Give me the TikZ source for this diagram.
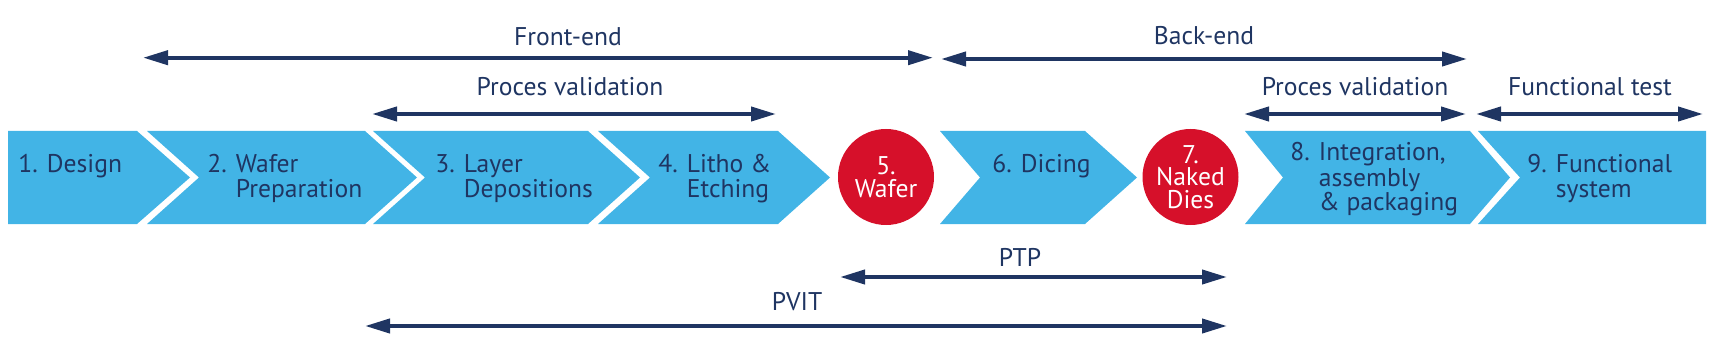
\documentclass[tikz,border=0pt]{standalone}
\usepackage{fontspec}
\setmainfont{PT Sans}
\usepackage{xcolor}
\usetikzlibrary{arrows.meta,calc}

\definecolor{stageblue}{HTML}{42B4E6}
\definecolor{milered}{HTML}{D6102A}
\definecolor{navy}{HTML}{1F3562}

\begin{document}
\begin{tikzpicture}[x=0.5pt, y=-0.5pt,
  stage/.style={fill=stageblue},
  steptext/.style={anchor=base west, inner sep=0, align=left, text=navy, font=\fontsize{12.8}{12.5}\selectfont},
  milestone/.style={circle, fill=milered, inner sep=0, minimum size=48pt, align=center, text=white, font=\fontsize{12.8}{11.2}\selectfont},
  span/.style={{Triangle[length=12.5pt,width=7pt]}-{Triangle[length=12.5pt,width=7pt]}, line width=2pt, draw=navy},
  spanlabel/.style={anchor=base, inner sep=0, text=navy, font=\fontsize{12.8}{14}\selectfont}
]
\useasboundingbox (0,0) rectangle (1720,353);

% process stages
\fill[stage] (8,131) -- (137,131) -- (190,177.5) -- (137,224) -- (8,224) -- cycle;
\foreach \xa/\xb/\nd/\td in {147/365/52/52, 373/588/52/52, 598/778/52/52, 940/1085/40/52, 1245/1470/38/40}
  \fill[stage] (\xa,131) -- (\xb,131) -- (\xb+\td,177.5) -- (\xb,224) -- (\xa,224) -- (\xa+\nd,177.5) -- cycle;
\fill[stage] (1478,131) -- (1706,131) -- (1706,224) -- (1478,224) -- (1520,177.5) -- cycle;

% base anchor of a multi-line node sits on its last line
\node[steptext] (design) at (18,173) {1. Design};
\node[steptext] (prep) at (207,198) {2. Wafer\\\hphantom{2. }Preparation};
\node[steptext] (layer) at (435,198) {3. Layer\\\hphantom{3. }Depositions};
\node[steptext] (litho) at (658,198) {4. Litho \&\\\hphantom{4. }Etching};
\node[milestone] (wafer) at (886,177) {5.\\Wafer};
\node[steptext] (dicing) at (992,173) {6. Dicing};
\node[milestone] (dies) at (1190.5,177) {7.\\Naked\\Dies};
\node[steptext] (integ) at (1290,211) {8. Integration,\\\hphantom{8. }assembly\\\hphantom{8. }\& packaging};
\node[steptext] (system) at (1527,198) {9. Functional\\\hphantom{9. }system};

% spans
\coordinate (fe-l) at (143,57.7);
\coordinate (fe-r) at (933,57.7);
\coordinate (be-l) at (941,59);
\coordinate (be-r) at (1467,59);
\coordinate (pvf-l) at (372,114);
\coordinate (pvf-r) at (776,114);
\coordinate (pvb-l) at (1244,114);
\coordinate (pvb-r) at (1466,114);
\coordinate (ft-l) at (1476,114);
\coordinate (ft-r) at (1703,114);
\coordinate (ptp-l) at (840,277);
\coordinate (ptp-r) at (1227,277);
\coordinate (pvit-l) at (365,326);
\coordinate (pvit-r) at (1227,326);

\draw[span] (fe-l) -- (fe-r);
\draw[span] (be-l) -- (be-r);
\draw[span] (pvf-l) -- (pvf-r);
\draw[span] (pvb-l) -- (pvb-r);
\draw[span] (ft-l) -- (ft-r);
\draw[span] (ptp-l) -- (ptp-r);
\draw[span] (pvit-l) -- (pvit-r);

\node[spanlabel] (frontend) at (568,46) {Front-end};
\node[spanlabel] (backend) at (1204,45) {Back-end};
\node[spanlabel] (pv-front) at (570,96) {Proces validation};
\node[spanlabel] (pv-back) at (1355,96) {Proces validation};
\node[spanlabel] (ftest) at (1590,96) {Functional test};
\node[spanlabel] (ptp) at (1020,266) {PTP};
\node[spanlabel] (pvit) at (797,310) {PVIT};
\end{tikzpicture}
\end{document}
